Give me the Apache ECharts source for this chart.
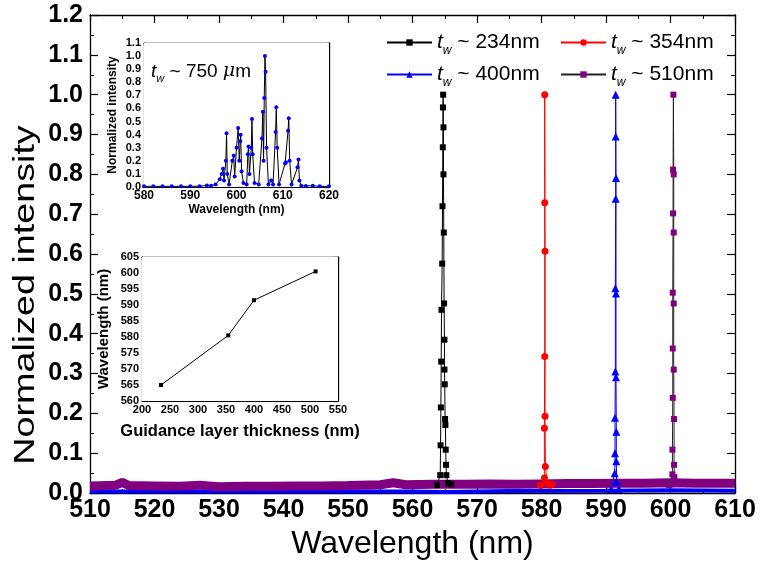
<!DOCTYPE html>
<html>
<head>
<meta charset="utf-8">
<script src="https://cdn.jsdelivr.net/npm/echarts@6/dist/echarts.min.js"></script>
<style>
  html, body { margin: 0; padding: 0; background: #fff; }
  #chart { width: 760px; height: 565px; }
</style>
</head>
<body>
<div id="chart"></div>
<script>
// series names
const seriesNames = ['t ~ 234nm', 't ~ 354nm', 't ~ 400nm', 't ~ 510nm'];
const thickLabels = ['234', '354', '400', '510'];

// main spectra: [wavelength nm, normalized intensity]
const peak234 = [[563.8,0.02],[564.3,0.045],[564.35,0.12],[564.4,0.215],[564.45,0.33],[564.5,0.46],[564.6,0.576],[564.65,0.72],[564.7,0.868],[564.72,0.968],[564.75,1.0],[564.8,0.918],[564.8,0.80],[564.85,0.654],[564.9,0.476],[564.95,0.385],[564.95,0.31],[565.0,0.273],[565.05,0.186],[565.1,0.171],[565.15,0.109],[565.2,0.071],[565.25,0.045],[565.5,0.025],[566,0.022]];
const peak354 = [[579.8,0.02],[580.45,0.038],[580.45,0.163],[580.5,0.343],[580.5,0.729],[580.5,1.0],[580.55,0.607],[580.55,0.193],[580.6,0.067],[580.9,0.025],[581.3,0.02],[581.6,0.022]];
const peak400 = [[590.8,0.01],[591.35,0.05],[591.4,0.10],[591.4,0.189],[591.45,0.305],[591.45,0.514],[591.5,0.739],[591.5,0.895],[591.5,1.0],[591.55,0.791],[591.55,0.501],[591.55,0.291],[591.6,0.154],[591.6,0.08],[591.65,0.03],[592,0.01]];
const peak510 = [[599.8,0.02],[600.3,0.047],[600.3,0.109],[600.35,0.239],[600.35,0.363],[600.35,0.503],[600.4,0.702],[600.4,0.812],[600.45,1.0],[600.5,0.80],[600.5,0.654],[600.5,0.476],[600.5,0.31],[600.55,0.186],[600.55,0.071],[600.6,0.04],[601,0.025]];

// noisy baselines (thick bands at the bottom)
const base510 = [[510,0.018],[514,0.02],[515,0.027],[516,0.019],[520,0.018],[524,0.017],[527,0.02],[530,0.016],[534,0.017],[538,0.017],[542,0.018],[546,0.018],[550,0.019],[555,0.021],[557,0.026],[559,0.021],[563,0.022],[568,0.022],[572,0.023],[576,0.022],[580,0.023],[584,0.024],[588,0.024],[592,0.025],[596,0.025],[600,0.026],[604,0.025],[608,0.025],[610,0.025]];
const base400 = [[510,0.004],[540,0.004],[560,0.004],[565,0.003],[575,0.005],[590,0.006],[600,0.007],[610,0.006]];

// inset 1: t_w ~ 750 um spectrum
const spec750 = [[580,0.005],[582,0.005],[584,0.005],[586,0.005],[588,0.005],[590,0.005],[592,0.006],[593.6,0.012],[594.5,0.01],[595.5,0.02],
  [596.4,0.06],[596.8,0.1],[597.1,0.14],[597.3,0.05],[597.7,0.2],[597.85,0.41],[598.0,0.1],[598.4,0.02],
  [599.1,0.2],[599.4,0.24],[599.6,0.08],[600.0,0.3],[600.35,0.45],[600.6,0.2],[600.8,0.35],[600.9,0.40],[601.1,0.12],[601.5,0.03],
  [602.2,0.02],[602.45,0.25],[602.6,0.31],[602.8,0.1],[603.2,0.3],[603.35,0.52],[603.5,0.25],[603.9,0.03],[604.8,0.02],
  [605.5,0.37],[605.7,0.575],[605.85,0.2],[606.0,0.68],[606.15,1.0],[606.3,0.88],[606.5,0.3],[606.9,0.02],[607.5,0.05],[607.9,0.02],
  [608.45,0.42],[608.6,0.61],[608.8,0.3],[609.2,0.02],[610.5,0.18],[610.7,0.19],[611.15,0.43],[611.3,0.525],[611.5,0.2],[611.9,0.02],
  [613.2,0.15],[613.4,0.21],[613.6,0.05],[614.0,0.01],[615,0.008],[616.5,0.01],[618,0.005],[620,0.005]];

// inset 2: peak wavelength vs guidance layer thickness
const thickness = [234, 354, 400, 510];
const peakWavelength = [565, 580.5, 591.5, 600.5];

const FONT = 'Liberation Sans, Arial, sans-serif';
const chart = echarts.init(document.getElementById('chart'));

function frameAxes(grid, pos, min, max, interval) {
  return {
    type: 'value', gridIndex: grid, position: pos, min: min, max: max, interval: interval,
    axisLine: { show: true, onZero: false, lineStyle: { color: '#000', width: 1.3 } },
    axisTick: { show: true, inside: true, length: grid === 0 ? 8 : 4, lineStyle: { color: '#000', width: 1.2 } },
    minorTick: { show: true, splitNumber: 2, length: grid === 0 ? 4 : 2, lineStyle: { color: '#000', width: 1 } },
    axisLabel: { show: false },
    splitLine: { show: false }
  };
}

const legendRich = {
  t: { fontFamily: FONT, fontSize: 21, fontStyle: 'italic', color: '#000' },
  w: { fontFamily: FONT, fontSize: 12, fontStyle: 'italic', color: '#000', padding: [16, 0, 0, 0] },
  n: { fontFamily: FONT, fontSize: 21, color: '#000' }
};
const legendPos = [[381, 27], [555, 27], [381, 59], [555, 59]];

const option = {
  backgroundColor: '#fff',
  animation: false,
  grid: [
    { left: 90, top: 15, width: 645, height: 482 },
    { left: 144, top: 43, width: 185, height: 144, show: true, backgroundColor: '#fff', borderWidth: 0, z: 3 },
    { left: 142, top: 257, width: 196, height: 144, show: true, backgroundColor: '#fff', borderWidth: 0, z: 3 }
  ],
  legend: seriesNames.map((nm, i) => ({
    data: [nm], left: legendPos[i][0], top: legendPos[i][1], itemWidth: 45, itemHeight: 8,
    selectedMode: false,
    formatter: () => '{t|t}{w|w}{n| ~ ' + thickLabels[i] + 'nm}',
    textStyle: { rich: legendRich }
  })),
  xAxis: [
    {
      type: 'value', gridIndex: 0, min: 510, max: 610, interval: 10,
      name: 'Wavelength (nm)', nameLocation: 'middle', nameGap: 34,
      nameTextStyle: { fontFamily: FONT, fontSize: 32, color: '#000' },
      axisLine: { show: true, onZero: false, lineStyle: { color: '#000', width: 1.3 } },
      axisTick: { inside: true, length: 8, lineStyle: { color: '#000', width: 1.2 } },
      minorTick: { show: true, splitNumber: 2, length: 4, lineStyle: { color: '#000' } },
      axisLabel: { fontFamily: FONT, fontSize: 25, fontWeight: 'bold', color: '#000', margin: 5 },
      splitLine: { show: false }
    },
    frameAxes(0, 'top', 510, 610, 10),
    {
      type: 'value', gridIndex: 1, min: 580, max: 620, interval: 10,
      name: 'Wavelength (nm)', nameLocation: 'middle', nameGap: 17,
      nameTextStyle: { fontFamily: FONT, fontSize: 12, fontWeight: 'bold', color: '#000' },
      axisLine: { show: true, onZero: false, lineStyle: { color: '#000', width: 1.2 } },
      axisTick: { inside: true, length: 4, lineStyle: { color: '#000' } },
      minorTick: { show: true, splitNumber: 2, length: 2, lineStyle: { color: '#000' } },
      axisLabel: { fontFamily: FONT, fontSize: 12, fontWeight: 'bold', color: '#000', margin: 3 },
      splitLine: { show: false }
    },
    frameAxes(1, 'top', 580, 620, 10),
    {
      type: 'value', gridIndex: 2, min: 200, max: 550, interval: 50,
      name: 'Guidance layer thickness (nm)', nameLocation: 'middle', nameGap: 22,
      nameTextStyle: { fontFamily: FONT, fontSize: 16.5, fontWeight: 'bold', color: '#000' },
      axisLine: { show: true, onZero: false, lineStyle: { color: '#000', width: 1.2 } },
      axisTick: { inside: true, length: 4, lineStyle: { color: '#000' } },
      minorTick: { show: true, splitNumber: 2, length: 2, lineStyle: { color: '#000' } },
      axisLabel: { fontFamily: FONT, fontSize: 11, fontWeight: 'bold', color: '#000', margin: 3 },
      splitLine: { show: false }
    },
    frameAxes(2, 'top', 200, 550, 50)
  ],
  yAxis: [
    {
      type: 'value', gridIndex: 0, min: 0, max: 1.2, interval: 0.1,
      axisLine: { show: true, onZero: false, lineStyle: { color: '#000', width: 1.3 } },
      axisTick: { inside: true, length: 8, lineStyle: { color: '#000', width: 1.2 } },
      minorTick: { show: true, splitNumber: 2, length: 4, lineStyle: { color: '#000' } },
      axisLabel: { fontFamily: FONT, fontSize: 25, fontWeight: 'bold', color: '#000', margin: 7,
        formatter: v => v.toFixed(1) },
      splitLine: { show: false }
    },
    frameAxes(0, 'right', 0, 1.2, 0.1),
    {
      type: 'value', gridIndex: 1, min: 0, max: 1.1, interval: 0.1,
      name: 'Normalized intensity', nameLocation: 'middle', nameGap: 25,
      nameTextStyle: { fontFamily: FONT, fontSize: 12, fontWeight: 'bold', color: '#000' },
      axisLine: { show: true, onZero: false, lineStyle: { color: '#000', width: 1.2 } },
      axisTick: { inside: true, length: 4, lineStyle: { color: '#000' } },
      minorTick: { show: true, splitNumber: 2, length: 2, lineStyle: { color: '#000' } },
      axisLabel: { fontFamily: FONT, fontSize: 11, fontWeight: 'bold', color: '#000', margin: 3,
        formatter: v => v.toFixed(1) },
      splitLine: { show: false }
    },
    frameAxes(1, 'right', 0, 1.1, 0.1),
    {
      type: 'value', gridIndex: 2, min: 560, max: 605, interval: 5,
      name: 'Wavelength (nm)', nameLocation: 'middle', nameGap: 31,
      nameTextStyle: { fontFamily: FONT, fontSize: 15, fontWeight: 'bold', color: '#000' },
      axisLine: { show: true, onZero: false, lineStyle: { color: '#000', width: 1.2 } },
      axisTick: { inside: true, length: 4, lineStyle: { color: '#000' } },
      minorTick: { show: true, splitNumber: 2, length: 2, lineStyle: { color: '#000' } },
      axisLabel: { fontFamily: FONT, fontSize: 11, fontWeight: 'bold', color: '#000', margin: 3 },
      splitLine: { show: false }
    },
    frameAxes(2, 'right', 560, 605, 5)
  ],
  graphic: [
    {
      // main y-axis title, stretched along its length like the reference
      type: 'text', x: 26, y: 295, rotation: Math.PI / 2, scaleX: 1.3, z: 100,
      style: { text: 'Normalized intensity', fontFamily: FONT, fontSize: 29, fill: '#000',
        align: 'center', verticalAlign: 'middle' }
    },
    {
      type: 'text', left: 151, top: 62, z: 100,
      style: {
        text: '{t|t}{w|w}{n| ~ 750 }{mu|μ}{n|m}',
        rich: {
          t: { fontFamily: FONT, fontSize: 19, fontStyle: 'italic', fill: '#000' },
          w: { fontFamily: FONT, fontSize: 11, fontStyle: 'italic', fill: '#000', padding: [14, 0, 0, 0] },
          n: { fontFamily: FONT, fontSize: 19, fill: '#000' },
          mu: { fontFamily: 'DejaVu Serif, serif', fontSize: 19, fontStyle: 'italic', fill: '#000' }
        }
      }
    }
  ],
  series: [
    { name: seriesNames[0], type: 'line', xAxisIndex: 0, yAxisIndex: 0, data: peak234,
      symbol: 'rect', symbolSize: 6, lineStyle: { color: '#000', width: 1 }, itemStyle: { color: '#000' }, z: 4 },
    { name: seriesNames[1], type: 'line', xAxisIndex: 0, yAxisIndex: 0, data: peak354,
      symbol: 'circle', symbolSize: 7, lineStyle: { color: '#ff0000', width: 1 }, itemStyle: { color: '#ff0000' }, z: 4 },
    { name: seriesNames[2], type: 'line', xAxisIndex: 0, yAxisIndex: 0, data: peak400,
      symbol: 'triangle', symbolSize: 8, lineStyle: { color: '#0000ff', width: 1 }, itemStyle: { color: '#0000ff' }, z: 4 },
    { name: seriesNames[3], type: 'line', xAxisIndex: 0, yAxisIndex: 0, data: peak510,
      symbol: 'rect', symbolSize: 6, lineStyle: { color: '#222', width: 1 }, itemStyle: { color: '#800080' }, z: 4 },
    { name: seriesNames[2], type: 'line', xAxisIndex: 0, yAxisIndex: 0, data: base400,
      showSymbol: false, lineStyle: { color: '#0000ff', width: 4 }, itemStyle: { color: '#0000ff' }, z: 2 },
    { name: seriesNames[3], type: 'line', xAxisIndex: 0, yAxisIndex: 0, data: base510,
      showSymbol: false, lineStyle: { color: '#800080', width: 9 }, itemStyle: { color: '#800080' }, z: 2 },
    { name: 'inset750', type: 'line', xAxisIndex: 2, yAxisIndex: 2, data: spec750,
      symbol: 'circle', symbolSize: 4, lineStyle: { color: '#000', width: 1 }, itemStyle: { color: '#0000ff' }, z: 5 },
    { name: 'insetTrend', type: 'line', xAxisIndex: 4, yAxisIndex: 4,
      data: thickness.map((t, i) => [t, peakWavelength[i]]),
      symbol: 'rect', symbolSize: 4, lineStyle: { color: '#000', width: 1 }, itemStyle: { color: '#000' }, z: 5 }
  ]
};

chart.setOption(option);
</script>
</body>
</html>
